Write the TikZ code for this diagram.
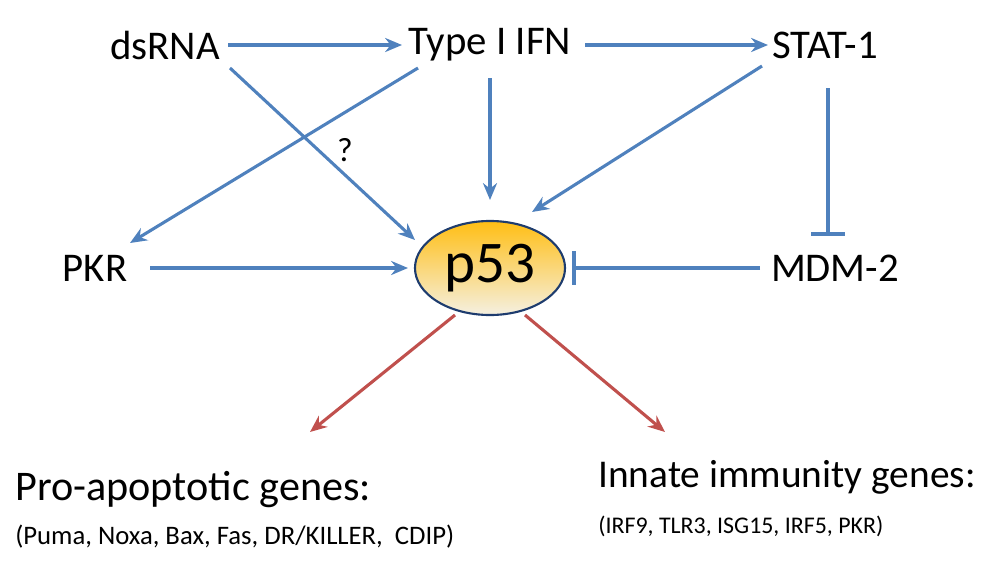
\documentclass[tikz,border=0pt]{standalone}
\usepackage{fontspec}
\setmainfont{Carlito}
\usetikzlibrary{arrows.meta,shapes.geometric}
\definecolor{ablue}{RGB}{79,129,189}
\definecolor{ared}{RGB}{192,80,77}
\definecolor{eorange}{RGB}{255,190,20}
\definecolor{elight}{RGB}{245,240,225}
\definecolor{eborder}{RGB}{30,60,110}
\begin{document}
\begin{tikzpicture}[x=0.025cm,y=-0.025cm,
  lbl/.style={font=\fontsize{29}{33}\selectfont,inner sep=0pt},
  big/.style={font=\fontsize{28}{32}\selectfont,inner sep=0pt,anchor=west},
  small/.style={font=\fontsize{18}{21}\selectfont,inner sep=0pt,anchor=west},
  ba/.style={draw=ablue,line width=2.2pt,-{Stealth[length=12pt,width=10pt]}},
  bi/.style={draw=ablue,line width=2.2pt,-{Bar[width=24pt,line width=2.6pt]}},
  ra/.style={draw=ared,line width=2.2pt,-{Stealth[length=12pt,width=10pt]}}]
\useasboundingbox (0,0) rectangle (1000,580);
\node[lbl] (ds) at (165,45) {dsRNA};
\node[lbl] (ifn) at (490,45) {Type I IFN};
\node[lbl] (stat) at (825,45) {STAT-1};
\node[lbl] (pkr) at (95,268) {PKR};
\node[lbl] (mdm) at (835,268) {MDM-2};
\node[draw=eborder,line width=1.5pt,ellipse,top color=eorange,bottom color=elight,
  minimum width=3.75cm,minimum height=2.35cm,inner sep=0pt,
  font=\fontsize{42}{46}\selectfont] (p) at (490,268) {p53};
\coordinate (a1) at (228,45); \coordinate (a2) at (402,45);
\draw[ba] (a1) -- (a2);
\coordinate (b1) at (585,45); \coordinate (b2) at (768,45);
\draw[ba] (b1) -- (b2);
\coordinate (c1) at (230,68); \coordinate (c2) at (415,240);
\draw[ba] (c1) -- (c2);
\node[font=\fontsize{24}{28}\selectfont] (q) at (345,150) {?};
\coordinate (d1) at (418,68); \coordinate (d2) at (130,243);
\draw[ba] (d1) -- (d2);
\coordinate (e1) at (490,78); \coordinate (e2) at (490,200);
\draw[ba] (e1) -- (e2);
\coordinate (f1) at (762,66); \coordinate (f2) at (532,212);
\draw[ba] (f1) -- (f2);
\coordinate (g1) at (828,88); \coordinate (g2) at (828,236);
\draw[bi] (g1) -- (g2);
\coordinate (h1) at (150,268); \coordinate (h2) at (408,268);
\draw[ba] (h1) -- (h2);
\coordinate (i1) at (760,268); \coordinate (i2) at (572,268);
\draw[bi] (i1) -- (i2);
\coordinate (j1) at (455,315); \coordinate (j2) at (310,432);
\draw[ra] (j1) -- (j2);
\coordinate (k1) at (525,315); \coordinate (k2) at (665,432);
\draw[ra] (k1) -- (k2);
\node[big,font=\fontsize{30}{34}\selectfont] (t1) at (15,490) {Pro-apoptotic genes:};
\node[small,font=\fontsize{19}{22}\selectfont] (t2) at (15,537) {(Puma, Noxa, Bax, Fas, DR/KILLER, \ CDIP)};
\node[big] (t3) at (598,477) {Innate immunity genes:};
\node[small,font=\fontsize{17}{20}\selectfont] (t4) at (598,526) {(IRF9, TLR3, ISG15, IRF5, PKR)};
\end{tikzpicture}
\end{document}
